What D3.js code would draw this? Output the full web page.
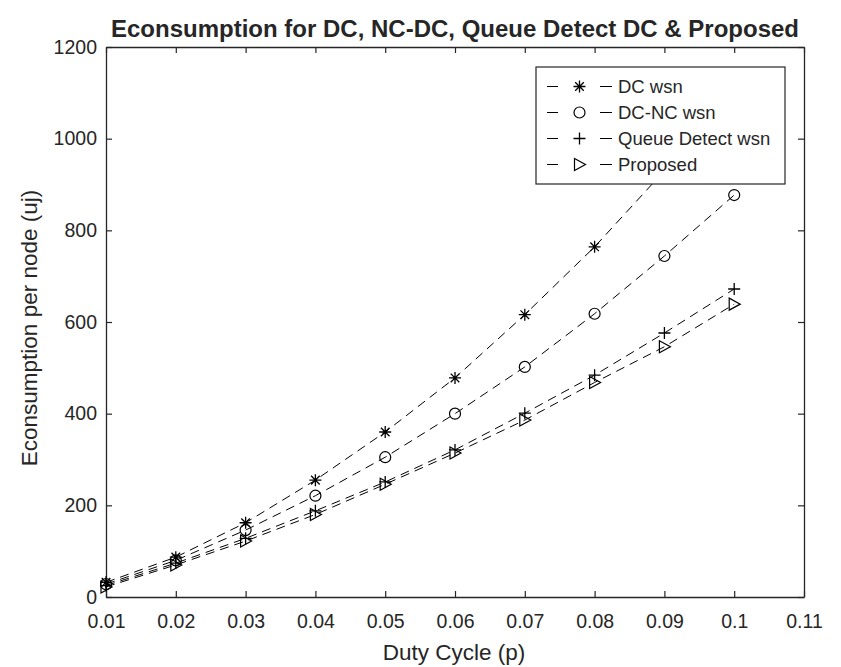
<!DOCTYPE html>
<html>
<head>
<meta charset="utf-8">
<script src="https://cdn.jsdelivr.net/npm/d3@7"></script>
<style>
  body { margin: 0; background: #fff; }
  text { font-family: "Liberation Sans", Arial, sans-serif; fill: #262626; }
</style>
</head>
<body>
<svg id="chart" width="841" height="667"></svg>
<script>
// duty cycle values
var dutyCycle = [0.01, 0.02, 0.03, 0.04, 0.05, 0.06, 0.07, 0.08, 0.09, 0.1];
var dcWsn = [32, 87, 162, 255, 360, 478, 616, 764, 930, 1110];
var dcNcWsn = [28, 80, 146, 221, 305, 400, 502, 618, 744, 877];
var queueWsn = [25, 74, 128, 188, 251, 321, 401, 484, 576, 672];
var proposed = [22, 70, 122, 180, 246, 314, 386, 468, 546, 639];
var xTicks = [0.01, 0.02, 0.03, 0.04, 0.05, 0.06, 0.07, 0.08, 0.09, 0.1, 0.11];
var yTicks = [0, 200, 400, 600, 800, 1000, 1200];
var seriesNames = ["DC wsn", "DC-NC wsn", "Queue Detect wsn", "Proposed"];
var markerKinds = ["star", "circle", "plus", "triangle"];

var series = [dcWsn, dcNcWsn, queueWsn, proposed].map(function(vals, i) {
    return {name: seriesNames[i], marker: markerKinds[i], values: vals.map(function(v, j) {
        return {x: dutyCycle[j], y: v};
    })};
});

var svg = d3.select("#chart");
var plotL = 106, plotR = 804, plotT = 47, plotB = 597;
var ink = "#262626";

var x = d3.scaleLinear().domain([0.01, 0.11]).range([plotL, plotR]);
var y = d3.scaleLinear().domain([0, 1200]).range([plotB, plotT]);

// axes (box with inward ticks on all four sides)
var xAxis = svg.append("g").attr("transform", "translate(0," + plotB + ")")
    .call(d3.axisBottom(x).tickValues(xTicks).tickSizeInner(-6).tickSizeOuter(0).tickPadding(17)
        .tickFormat(function(d) { return d3.format("~g")(+d.toFixed(2)); }));
var xTop = svg.append("g").attr("transform", "translate(0," + plotT + ")")
    .call(d3.axisTop(x).tickValues(xTicks).tickSizeInner(-6).tickSizeOuter(0).tickFormat(""));
var yAxis = svg.append("g").attr("transform", "translate(" + plotL + ",0)")
    .call(d3.axisLeft(y).tickValues(yTicks).tickSizeInner(-6).tickSizeOuter(0).tickPadding(9)
        .tickFormat(d3.format("d")));
var yRight = svg.append("g").attr("transform", "translate(" + plotR + ",0)")
    .call(d3.axisRight(y).tickValues(yTicks).tickSizeInner(-6).tickSizeOuter(0).tickFormat(""));

[xAxis, xTop, yAxis, yRight].forEach(function(g) {
    g.selectAll(".domain").attr("stroke", ink).attr("stroke-width", 1.3);
    g.selectAll(".tick line").attr("stroke", ink).attr("stroke-width", 1.2);
    g.selectAll("text").attr("font-size", 19.5).attr("fill", "#4d4d4d")
        .attr("font-family", "'Liberation Sans', Arial, sans-serif");
});

// markers
function drawMarker(g, kind, cx, cy) {
    var s = 6;
    if (kind === "star") {
        var d = "M" + (cx - s) + "," + cy + "H" + (cx + s) + "M" + cx + "," + (cy - s) + "V" + (cy + s) +
            "M" + (cx - 4.3) + "," + (cy - 4.3) + "L" + (cx + 4.3) + "," + (cy + 4.3) +
            "M" + (cx - 4.3) + "," + (cy + 4.3) + "L" + (cx + 4.3) + "," + (cy - 4.3);
        g.append("path").attr("d", d).attr("stroke", "#000").attr("stroke-width", 1.3).attr("fill", "none");
    } else if (kind === "circle") {
        g.append("circle").attr("cx", cx).attr("cy", cy).attr("r", 5.5)
            .attr("stroke", "#000").attr("stroke-width", 1.2).attr("fill", "none");
    } else if (kind === "plus") {
        g.append("path").attr("d", "M" + (cx - s) + "," + cy + "H" + (cx + s) + "M" + cx + "," + (cy - s) + "V" + (cy + s))
            .attr("stroke", "#000").attr("stroke-width", 1.3).attr("fill", "none");
    } else {
        g.append("path").attr("d", "M" + (cx - 5) + "," + (cy - 6) + "L" + (cx + 6) + "," + cy + "L" + (cx - 5) + "," + (cy + 6) + "Z")
            .attr("stroke", "#000").attr("stroke-width", 1.2).attr("fill", "none");
    }
}

var line = d3.line().x(function(d) { return x(d.x); }).y(function(d) { return y(d.y); });

var plot = svg.append("g");
series.forEach(function(s) {
    plot.append("path").datum(s.values).attr("d", line)
        .attr("fill", "none").attr("stroke", "#000").attr("stroke-width", 1)
        .attr("stroke-dasharray", "9,6");
    var mg = plot.append("g");
    s.values.forEach(function(p) { drawMarker(mg, s.marker, x(p.x), y(p.y)); });
});

// legend
var lg = svg.append("g");
lg.append("rect").attr("x", 536).attr("y", 67).attr("width", 249).attr("height", 117)
    .attr("fill", "#fff").attr("stroke", ink).attr("stroke-width", 1.2);
series.forEach(function(s, i) {
    var ry = 86.5 + i * 26;
    lg.append("line").attr("x1", 547).attr("x2", 612).attr("y1", ry).attr("y2", ry)
        .attr("stroke", "#000").attr("stroke-width", 1).attr("stroke-dasharray", "11,42,12");
    drawMarker(lg, s.marker, 579.5, ry);
    lg.append("text").attr("x", 618).attr("y", ry).attr("dy", "0.36em")
        .attr("font-size", 18.5).attr("fill", "#262626").text(s.name);
});

// titles
svg.append("text").attr("x", 455).attr("y", 37).attr("text-anchor", "middle")
    .attr("font-size", 23).attr("font-weight", "bold").attr("fill", "#000")
    .attr("textLength", 688).attr("lengthAdjust", "spacingAndGlyphs")
    .text("Econsumption for DC, NC-DC, Queue Detect DC & Proposed");
svg.append("text").attr("x", 454).attr("y", 660).attr("text-anchor", "middle")
    .attr("font-size", 22.5).attr("fill", "#4d4d4d").text("Duty Cycle (p)");
svg.append("text").attr("transform", "translate(37,328) rotate(-90)")
    .attr("text-anchor", "middle").attr("font-size", 22.5).attr("fill", "#4d4d4d")
    .text("Econsumption per node (uj)");
</script>
</body>
</html>
